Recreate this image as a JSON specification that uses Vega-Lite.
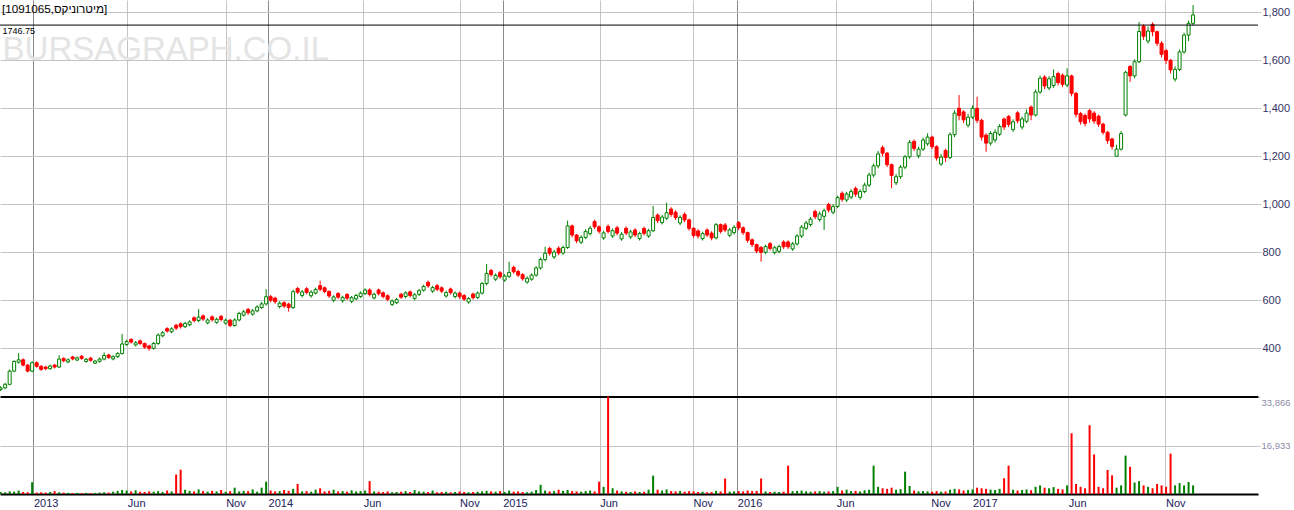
{
"$schema": "https://vega.github.io/schema/vega-lite/v6.json",
"padding": {"left": -2, "top": 0, "right": 0, "bottom": 0},
"autosize": {"type": "pad"},
"background": "white",
"spacing": 0,
"config": {"view": {"stroke": null}, "font": "Liberation Sans"},
"datasets": {"p": [
{"d":"2012-11-11","o":228,"h":242,"l":222,"c":235,"v":700},
{"d":"2012-11-18","o":235,"h":256,"l":230,"c":250,"v":600},
{"d":"2012-11-25","o":250,"h":312,"l":246,"c":305,"v":900},
{"d":"2012-12-02","o":305,"h":350,"l":300,"c":345,"v":800},
{"d":"2012-12-09","o":342,"h":380,"l":336,"c":352,"v":1200},
{"d":"2012-12-16","o":352,"h":358,"l":325,"c":330,"v":700},
{"d":"2012-12-23","o":330,"h":334,"l":300,"c":305,"v":600},
{"d":"2012-12-30","o":305,"h":346,"l":300,"c":340,"v":4100},
{"d":"2013-01-06","o":340,"h":345,"l":319,"c":325,"v":500},
{"d":"2013-01-13","o":325,"h":330,"l":306,"c":312,"v":600},
{"d":"2013-01-20","o":322,"h":327,"l":309,"c":315,"v":500},
{"d":"2013-01-27","o":315,"h":332,"l":311,"c":326,"v":700},
{"d":"2013-02-03","o":330,"h":334,"l":316,"c":322,"v":1000},
{"d":"2013-02-10","o":322,"h":371,"l":318,"c":355,"v":600},
{"d":"2013-02-17","o":358,"h":362,"l":342,"c":348,"v":500},
{"d":"2013-02-24","o":343,"h":358,"l":338,"c":352,"v":400},
{"d":"2013-03-03","o":364,"h":368,"l":350,"c":356,"v":300},
{"d":"2013-03-10","o":351,"h":366,"l":346,"c":360,"v":400},
{"d":"2013-03-17","o":367,"h":372,"l":352,"c":358,"v":300},
{"d":"2013-03-24","o":345,"h":360,"l":340,"c":354,"v":400},
{"d":"2013-03-31","o":359,"h":364,"l":344,"c":350,"v":300},
{"d":"2013-04-07","o":338,"h":352,"l":334,"c":347,"v":400},
{"d":"2013-04-14","o":346,"h":362,"l":340,"c":355,"v":500},
{"d":"2013-04-21","o":355,"h":383,"l":350,"c":370,"v":600},
{"d":"2013-04-28","o":372,"h":377,"l":356,"c":362,"v":500},
{"d":"2013-05-05","o":356,"h":371,"l":350,"c":365,"v":800},
{"d":"2013-05-12","o":365,"h":384,"l":360,"c":378,"v":1100},
{"d":"2013-05-19","o":378,"h":460,"l":374,"c":418,"v":1400},
{"d":"2013-05-26","o":416,"h":436,"l":410,"c":428,"v":1200},
{"d":"2013-06-02","o":437,"h":442,"l":420,"c":426,"v":900},
{"d":"2013-06-09","o":414,"h":430,"l":408,"c":423,"v":1300},
{"d":"2013-06-16","o":431,"h":436,"l":413,"c":420,"v":800},
{"d":"2013-06-23","o":420,"h":424,"l":398,"c":405,"v":700},
{"d":"2013-06-30","o":410,"h":414,"l":390,"c":400,"v":900},
{"d":"2013-07-07","o":400,"h":426,"l":394,"c":420,"v":800},
{"d":"2013-07-14","o":420,"h":462,"l":414,"c":455,"v":1000},
{"d":"2013-07-21","o":452,"h":472,"l":446,"c":465,"v":700},
{"d":"2013-07-28","o":482,"h":488,"l":465,"c":472,"v":1200},
{"d":"2013-08-04","o":469,"h":488,"l":463,"c":481,"v":900},
{"d":"2013-08-11","o":496,"h":502,"l":476,"c":484,"v":6800},
{"d":"2013-08-18","o":502,"h":508,"l":482,"c":490,"v":8500},
{"d":"2013-08-25","o":490,"h":510,"l":484,"c":504,"v":1500},
{"d":"2013-09-01","o":498,"h":517,"l":492,"c":510,"v":1100},
{"d":"2013-09-08","o":527,"h":533,"l":508,"c":516,"v":900},
{"d":"2013-09-15","o":516,"h":563,"l":508,"c":530,"v":1600},
{"d":"2013-09-22","o":535,"h":541,"l":514,"c":522,"v":1000},
{"d":"2013-09-29","o":506,"h":525,"l":500,"c":518,"v":800},
{"d":"2013-10-06","o":531,"h":537,"l":511,"c":519,"v":1100},
{"d":"2013-10-13","o":508,"h":528,"l":502,"c":521,"v":900},
{"d":"2013-10-20","o":533,"h":539,"l":512,"c":520,"v":1400},
{"d":"2013-10-27","o":505,"h":524,"l":498,"c":517,"v":800},
{"d":"2013-11-03","o":517,"h":522,"l":488,"c":495,"v":1000},
{"d":"2013-11-10","o":495,"h":525,"l":490,"c":518,"v":2200},
{"d":"2013-11-17","o":518,"h":552,"l":512,"c":545,"v":900},
{"d":"2013-11-24","o":538,"h":560,"l":532,"c":552,"v":1100},
{"d":"2013-12-01","o":562,"h":568,"l":540,"c":548,"v":1000},
{"d":"2013-12-08","o":542,"h":564,"l":536,"c":556,"v":1600},
{"d":"2013-12-15","o":556,"h":580,"l":550,"c":572,"v":800},
{"d":"2013-12-22","o":570,"h":593,"l":564,"c":585,"v":2200},
{"d":"2013-12-29","o":585,"h":646,"l":578,"c":615,"v":4300},
{"d":"2014-01-05","o":615,"h":622,"l":592,"c":600,"v":1200},
{"d":"2014-01-12","o":609,"h":615,"l":586,"c":594,"v":900},
{"d":"2014-01-19","o":574,"h":596,"l":566,"c":588,"v":1000},
{"d":"2014-01-26","o":590,"h":596,"l":568,"c":576,"v":1400},
{"d":"2014-02-02","o":584,"h":590,"l":553,"c":570,"v":1100},
{"d":"2014-02-09","o":570,"h":644,"l":564,"c":636,"v":1800},
{"d":"2014-02-16","o":649,"h":656,"l":626,"c":634,"v":3500},
{"d":"2014-02-23","o":620,"h":643,"l":612,"c":635,"v":900},
{"d":"2014-03-02","o":648,"h":655,"l":625,"c":633,"v":1000},
{"d":"2014-03-09","o":619,"h":642,"l":611,"c":634,"v":800},
{"d":"2014-03-16","o":630,"h":653,"l":624,"c":645,"v":1500},
{"d":"2014-03-23","o":661,"h":682,"l":638,"c":646,"v":2000},
{"d":"2014-03-30","o":652,"h":658,"l":629,"c":637,"v":900},
{"d":"2014-04-06","o":637,"h":641,"l":610,"c":618,"v":1100},
{"d":"2014-04-13","o":600,"h":621,"l":592,"c":614,"v":1500},
{"d":"2014-04-20","o":628,"h":634,"l":605,"c":613,"v":900},
{"d":"2014-04-27","o":598,"h":619,"l":590,"c":612,"v":1000},
{"d":"2014-05-04","o":624,"h":630,"l":601,"c":609,"v":800},
{"d":"2014-05-11","o":596,"h":618,"l":588,"c":611,"v":1300},
{"d":"2014-05-18","o":606,"h":627,"l":600,"c":620,"v":900},
{"d":"2014-05-25","o":616,"h":637,"l":610,"c":630,"v":1000},
{"d":"2014-06-01","o":628,"h":650,"l":622,"c":643,"v":1200},
{"d":"2014-06-08","o":643,"h":650,"l":616,"c":624,"v":4500},
{"d":"2014-06-15","o":610,"h":632,"l":603,"c":625,"v":900},
{"d":"2014-06-22","o":643,"h":649,"l":620,"c":628,"v":800},
{"d":"2014-06-29","o":631,"h":637,"l":608,"c":616,"v":700},
{"d":"2014-07-06","o":619,"h":625,"l":596,"c":604,"v":900},
{"d":"2014-07-13","o":583,"h":604,"l":576,"c":597,"v":600},
{"d":"2014-07-20","o":590,"h":610,"l":584,"c":603,"v":700},
{"d":"2014-07-27","o":625,"h":631,"l":606,"c":613,"v":800},
{"d":"2014-08-03","o":616,"h":638,"l":608,"c":631,"v":1000},
{"d":"2014-08-10","o":635,"h":641,"l":612,"c":620,"v":700},
{"d":"2014-08-17","o":608,"h":630,"l":600,"c":623,"v":1400},
{"d":"2014-08-24","o":625,"h":647,"l":618,"c":640,"v":900},
{"d":"2014-08-31","o":642,"h":665,"l":636,"c":658,"v":800},
{"d":"2014-09-07","o":675,"h":682,"l":652,"c":660,"v":700},
{"d":"2014-09-14","o":638,"h":660,"l":631,"c":653,"v":1200},
{"d":"2014-09-21","o":661,"h":668,"l":638,"c":646,"v":600},
{"d":"2014-09-28","o":652,"h":658,"l":630,"c":638,"v":700},
{"d":"2014-10-05","o":618,"h":640,"l":611,"c":632,"v":800},
{"d":"2014-10-12","o":647,"h":653,"l":624,"c":632,"v":600},
{"d":"2014-10-19","o":616,"h":637,"l":608,"c":630,"v":700},
{"d":"2014-10-26","o":630,"h":636,"l":606,"c":615,"v":900},
{"d":"2014-11-02","o":620,"h":626,"l":597,"c":605,"v":700},
{"d":"2014-11-09","o":593,"h":614,"l":586,"c":607,"v":600},
{"d":"2014-11-16","o":626,"h":632,"l":603,"c":611,"v":700},
{"d":"2014-11-23","o":612,"h":637,"l":605,"c":630,"v":800},
{"d":"2014-11-30","o":630,"h":676,"l":624,"c":670,"v":900},
{"d":"2014-12-07","o":670,"h":751,"l":662,"c":712,"v":1100},
{"d":"2014-12-14","o":724,"h":731,"l":699,"c":707,"v":900},
{"d":"2014-12-21","o":688,"h":712,"l":680,"c":704,"v":800},
{"d":"2014-12-28","o":715,"h":722,"l":690,"c":698,"v":1000},
{"d":"2015-01-04","o":684,"h":709,"l":677,"c":701,"v":700},
{"d":"2015-01-11","o":700,"h":761,"l":693,"c":716,"v":1200},
{"d":"2015-01-18","o":737,"h":744,"l":711,"c":719,"v":800},
{"d":"2015-01-25","o":720,"h":727,"l":697,"c":705,"v":900},
{"d":"2015-02-01","o":707,"h":713,"l":682,"c":690,"v":700},
{"d":"2015-02-08","o":676,"h":700,"l":669,"c":692,"v":600},
{"d":"2015-02-15","o":688,"h":712,"l":681,"c":705,"v":800},
{"d":"2015-02-22","o":705,"h":742,"l":698,"c":735,"v":1400},
{"d":"2015-03-01","o":735,"h":778,"l":728,"c":770,"v":3200},
{"d":"2015-03-08","o":770,"h":823,"l":762,"c":796,"v":1200},
{"d":"2015-03-15","o":816,"h":824,"l":786,"c":796,"v":900},
{"d":"2015-03-22","o":781,"h":810,"l":772,"c":801,"v":1000},
{"d":"2015-03-29","o":817,"h":825,"l":788,"c":797,"v":1500},
{"d":"2015-04-05","o":797,"h":828,"l":790,"c":820,"v":1100},
{"d":"2015-04-12","o":820,"h":932,"l":814,"c":910,"v":1400},
{"d":"2015-04-19","o":910,"h":916,"l":862,"c":872,"v":1000},
{"d":"2015-04-26","o":872,"h":876,"l":838,"c":848,"v":900},
{"d":"2015-05-03","o":842,"h":871,"l":834,"c":862,"v":800},
{"d":"2015-05-10","o":862,"h":896,"l":855,"c":887,"v":1000},
{"d":"2015-05-17","o":878,"h":910,"l":870,"c":900,"v":1200},
{"d":"2015-05-24","o":928,"h":936,"l":897,"c":906,"v":900},
{"d":"2015-05-31","o":906,"h":912,"l":878,"c":888,"v":4300},
{"d":"2015-06-07","o":860,"h":890,"l":852,"c":881,"v":2500},
{"d":"2015-06-14","o":908,"h":916,"l":878,"c":887,"v":34000},
{"d":"2015-06-21","o":868,"h":899,"l":860,"c":890,"v":2000},
{"d":"2015-06-28","o":902,"h":910,"l":871,"c":880,"v":1200},
{"d":"2015-07-05","o":856,"h":884,"l":848,"c":875,"v":900},
{"d":"2015-07-12","o":900,"h":908,"l":871,"c":880,"v":800},
{"d":"2015-07-19","o":864,"h":894,"l":856,"c":885,"v":700},
{"d":"2015-07-26","o":893,"h":900,"l":863,"c":872,"v":900},
{"d":"2015-08-02","o":857,"h":886,"l":849,"c":878,"v":700},
{"d":"2015-08-09","o":899,"h":907,"l":870,"c":879,"v":800},
{"d":"2015-08-16","o":868,"h":898,"l":860,"c":890,"v":1500},
{"d":"2015-08-23","o":890,"h":993,"l":884,"c":945,"v":6400},
{"d":"2015-08-30","o":955,"h":962,"l":922,"c":932,"v":1500},
{"d":"2015-09-06","o":924,"h":956,"l":916,"c":947,"v":1200},
{"d":"2015-09-13","o":942,"h":1007,"l":934,"c":965,"v":1600},
{"d":"2015-09-20","o":980,"h":988,"l":948,"c":958,"v":1000},
{"d":"2015-09-27","o":967,"h":975,"l":935,"c":945,"v":900},
{"d":"2015-10-04","o":922,"h":954,"l":913,"c":945,"v":1100},
{"d":"2015-10-11","o":958,"h":966,"l":925,"c":935,"v":800},
{"d":"2015-10-18","o":935,"h":940,"l":890,"c":900,"v":1000},
{"d":"2015-10-25","o":900,"h":904,"l":860,"c":870,"v":900},
{"d":"2015-11-01","o":889,"h":896,"l":858,"c":868,"v":700},
{"d":"2015-11-08","o":857,"h":886,"l":849,"c":878,"v":800},
{"d":"2015-11-15","o":893,"h":900,"l":863,"c":872,"v":600},
{"d":"2015-11-22","o":880,"h":888,"l":850,"c":860,"v":700},
{"d":"2015-11-29","o":860,"h":922,"l":854,"c":915,"v":1100},
{"d":"2015-12-06","o":915,"h":920,"l":878,"c":887,"v":900},
{"d":"2015-12-13","o":914,"h":922,"l":884,"c":893,"v":5400},
{"d":"2015-12-20","o":871,"h":901,"l":863,"c":893,"v":800},
{"d":"2015-12-27","o":882,"h":913,"l":874,"c":904,"v":900},
{"d":"2016-01-03","o":924,"h":930,"l":892,"c":902,"v":1000},
{"d":"2016-01-10","o":902,"h":908,"l":872,"c":882,"v":900},
{"d":"2016-01-17","o":882,"h":886,"l":840,"c":850,"v":1200},
{"d":"2016-01-24","o":852,"h":858,"l":822,"c":832,"v":1000},
{"d":"2016-01-31","o":832,"h":836,"l":796,"c":805,"v":1100},
{"d":"2016-02-07","o":820,"h":826,"l":761,"c":800,"v":5400},
{"d":"2016-02-14","o":800,"h":832,"l":792,"c":824,"v":900},
{"d":"2016-02-21","o":836,"h":843,"l":808,"c":816,"v":700},
{"d":"2016-02-28","o":799,"h":827,"l":791,"c":819,"v":800},
{"d":"2016-03-06","o":804,"h":832,"l":796,"c":824,"v":700},
{"d":"2016-03-13","o":843,"h":850,"l":814,"c":823,"v":800},
{"d":"2016-03-20","o":843,"h":850,"l":814,"c":823,"v":9900},
{"d":"2016-03-27","o":814,"h":843,"l":806,"c":835,"v":1000},
{"d":"2016-04-03","o":835,"h":876,"l":828,"c":868,"v":1100},
{"d":"2016-04-10","o":868,"h":914,"l":860,"c":905,"v":1200},
{"d":"2016-04-17","o":900,"h":931,"l":892,"c":922,"v":900},
{"d":"2016-04-24","o":916,"h":947,"l":908,"c":938,"v":800},
{"d":"2016-05-01","o":970,"h":978,"l":938,"c":948,"v":900},
{"d":"2016-05-08","o":936,"h":970,"l":928,"c":960,"v":1000},
{"d":"2016-05-15","o":950,"h":982,"l":893,"c":973,"v":800},
{"d":"2016-05-22","o":999,"h":1006,"l":966,"c":976,"v":900},
{"d":"2016-05-29","o":967,"h":1000,"l":958,"c":991,"v":1000},
{"d":"2016-06-05","o":991,"h":1036,"l":984,"c":1028,"v":2500},
{"d":"2016-06-12","o":1046,"h":1054,"l":1010,"c":1021,"v":1200},
{"d":"2016-06-19","o":1018,"h":1052,"l":1010,"c":1043,"v":1500},
{"d":"2016-06-26","o":1030,"h":1063,"l":1022,"c":1053,"v":1000},
{"d":"2016-07-03","o":1066,"h":1074,"l":1031,"c":1042,"v":1100},
{"d":"2016-07-10","o":1029,"h":1062,"l":1020,"c":1053,"v":900},
{"d":"2016-07-17","o":1053,"h":1090,"l":1046,"c":1080,"v":1300},
{"d":"2016-07-24","o":1080,"h":1132,"l":1072,"c":1122,"v":1500},
{"d":"2016-07-31","o":1122,"h":1170,"l":1112,"c":1160,"v":9900},
{"d":"2016-08-07","o":1160,"h":1222,"l":1150,"c":1210,"v":2500},
{"d":"2016-08-14","o":1236,"h":1245,"l":1200,"c":1213,"v":2000},
{"d":"2016-08-21","o":1213,"h":1218,"l":1155,"c":1165,"v":1800},
{"d":"2016-08-28","o":1165,"h":1170,"l":1067,"c":1120,"v":2200},
{"d":"2016-09-04","o":1090,"h":1126,"l":1080,"c":1115,"v":1500},
{"d":"2016-09-11","o":1115,"h":1164,"l":1106,"c":1155,"v":1700},
{"d":"2016-09-18","o":1155,"h":1206,"l":1146,"c":1198,"v":7800},
{"d":"2016-09-25","o":1198,"h":1268,"l":1190,"c":1258,"v":2800},
{"d":"2016-10-02","o":1262,"h":1270,"l":1222,"c":1233,"v":1200},
{"d":"2016-10-09","o":1202,"h":1240,"l":1192,"c":1230,"v":900},
{"d":"2016-10-16","o":1230,"h":1278,"l":1222,"c":1268,"v":1000},
{"d":"2016-10-23","o":1252,"h":1296,"l":1244,"c":1280,"v":900},
{"d":"2016-10-30","o":1280,"h":1286,"l":1230,"c":1240,"v":800},
{"d":"2016-11-06","o":1240,"h":1246,"l":1182,"c":1193,"v":1000},
{"d":"2016-11-13","o":1168,"h":1210,"l":1160,"c":1197,"v":800},
{"d":"2016-11-20","o":1224,"h":1232,"l":1176,"c":1195,"v":900},
{"d":"2016-11-27","o":1195,"h":1300,"l":1188,"c":1290,"v":1500},
{"d":"2016-12-04","o":1290,"h":1392,"l":1280,"c":1380,"v":1800},
{"d":"2016-12-11","o":1400,"h":1455,"l":1350,"c":1370,"v":1600},
{"d":"2016-12-18","o":1385,"h":1392,"l":1338,"c":1352,"v":1200},
{"d":"2016-12-25","o":1330,"h":1376,"l":1320,"c":1363,"v":1400},
{"d":"2017-01-01","o":1363,"h":1412,"l":1355,"c":1400,"v":1600},
{"d":"2017-01-08","o":1400,"h":1448,"l":1338,"c":1350,"v":2200},
{"d":"2017-01-15","o":1350,"h":1356,"l":1266,"c":1280,"v":2000},
{"d":"2017-01-22","o":1288,"h":1296,"l":1219,"c":1255,"v":1800},
{"d":"2017-01-29","o":1255,"h":1305,"l":1245,"c":1295,"v":1500},
{"d":"2017-02-05","o":1268,"h":1312,"l":1258,"c":1300,"v":1400},
{"d":"2017-02-12","o":1292,"h":1334,"l":1284,"c":1324,"v":1800},
{"d":"2017-02-19","o":1355,"h":1362,"l":1310,"c":1322,"v":5500},
{"d":"2017-02-26","o":1366,"h":1372,"l":1322,"c":1333,"v":9900},
{"d":"2017-03-05","o":1311,"h":1354,"l":1302,"c":1344,"v":1500},
{"d":"2017-03-12","o":1381,"h":1388,"l":1337,"c":1348,"v":1200},
{"d":"2017-03-19","o":1322,"h":1366,"l":1312,"c":1356,"v":1400},
{"d":"2017-03-26","o":1346,"h":1395,"l":1338,"c":1380,"v":1600},
{"d":"2017-04-02","o":1405,"h":1412,"l":1350,"c":1372,"v":1300},
{"d":"2017-04-09","o":1372,"h":1478,"l":1366,"c":1468,"v":2500},
{"d":"2017-04-16","o":1468,"h":1536,"l":1460,"c":1525,"v":3000},
{"d":"2017-04-23","o":1530,"h":1538,"l":1480,"c":1493,"v":2200},
{"d":"2017-04-30","o":1485,"h":1534,"l":1476,"c":1523,"v":2000},
{"d":"2017-05-07","o":1495,"h":1562,"l":1486,"c":1532,"v":2400},
{"d":"2017-05-14","o":1545,"h":1553,"l":1495,"c":1507,"v":1800},
{"d":"2017-05-21","o":1538,"h":1545,"l":1488,"c":1500,"v":1600},
{"d":"2017-05-28","o":1497,"h":1567,"l":1488,"c":1535,"v":3000},
{"d":"2017-06-04","o":1535,"h":1540,"l":1450,"c":1462,"v":21200},
{"d":"2017-06-11","o":1462,"h":1468,"l":1362,"c":1375,"v":3500},
{"d":"2017-06-18","o":1378,"h":1385,"l":1332,"c":1344,"v":2500},
{"d":"2017-06-25","o":1370,"h":1378,"l":1325,"c":1337,"v":2000},
{"d":"2017-07-02","o":1390,"h":1397,"l":1340,"c":1356,"v":24000},
{"d":"2017-07-09","o":1380,"h":1388,"l":1335,"c":1347,"v":13800},
{"d":"2017-07-16","o":1367,"h":1374,"l":1322,"c":1334,"v":2500},
{"d":"2017-07-23","o":1334,"h":1340,"l":1290,"c":1300,"v":2000},
{"d":"2017-07-30","o":1300,"h":1306,"l":1252,"c":1265,"v":8400},
{"d":"2017-08-06","o":1272,"h":1278,"l":1228,"c":1241,"v":6500},
{"d":"2017-08-13","o":1200,"h":1248,"l":1212,"c":1230,"v":2200},
{"d":"2017-08-20","o":1230,"h":1305,"l":1224,"c":1295,"v":3000},
{"d":"2017-08-27","o":1372,"h":1556,"l":1366,"c":1550,"v":13400},
{"d":"2017-09-03","o":1574,"h":1580,"l":1510,"c":1535,"v":9500},
{"d":"2017-09-10","o":1535,"h":1604,"l":1525,"c":1594,"v":4000},
{"d":"2017-09-17","o":1594,"h":1760,"l":1588,"c":1720,"v":4500},
{"d":"2017-09-24","o":1742,"h":1750,"l":1685,"c":1700,"v":3000},
{"d":"2017-10-01","o":1680,"h":1740,"l":1670,"c":1722,"v":2500},
{"d":"2017-10-08","o":1750,"h":1758,"l":1700,"c":1719,"v":2000},
{"d":"2017-10-15","o":1719,"h":1724,"l":1660,"c":1671,"v":3500},
{"d":"2017-10-22","o":1671,"h":1680,"l":1612,"c":1625,"v":3000},
{"d":"2017-10-29","o":1640,"h":1648,"l":1585,"c":1600,"v":2500},
{"d":"2017-11-05","o":1600,"h":1606,"l":1545,"c":1560,"v":14100},
{"d":"2017-11-12","o":1522,"h":1575,"l":1511,"c":1562,"v":3000},
{"d":"2017-11-19","o":1562,"h":1645,"l":1555,"c":1635,"v":3800},
{"d":"2017-11-26","o":1635,"h":1715,"l":1628,"c":1705,"v":3000},
{"d":"2017-12-03","o":1705,"h":1765,"l":1680,"c":1754,"v":4200},
{"d":"2017-12-10","o":1754,"h":1830,"l":1745,"c":1789,"v":3000}
]},
"vconcat": [
{
"width": 1258,
"height": 396,
"layer": [
{
"data": {"values": [{"t": "BURSAGRAPH.CO.IL"}]},
"mark": {"type": "text", "align": "left", "baseline": "alphabetic", "fontSize": 33, "font": "Liberation Sans", "color": "#e4e4e4"},
"encoding": {
"text": {"field": "t"},
"x": {"datum": {"year": 2012, "month": 11, "date": 14}, "type": "temporal"},
"y": {"datum": 1601, "type": "quantitative"}
}
},
{
"data": {"name": "p"},
"mark": {"type": "rule", "strokeWidth": 1},
"encoding": {
"x": {"field": "d", "type": "temporal",
"scale": {"domain": [{"year": 2012, "month": 11, "date": 10}, {"year": 2018, "month": 3, "date": 21}], "nice": false, "padding": 0},
"axis": {"title": null, "orient": "bottom", "labels": false, "ticks": false, "domain": true, "domainColor": "#000000", "domainWidth": 1,
"grid": true, "gridColor": {"condition": {"test": "month(time(datum.value) + 864000000) == 0", "value": "#8a8a8a"}, "value": "#c4c4c4"},
"values": [{"year":2013,"month":1,"date":1},{"year":2013,"month":5,"date":27},{"year":2013,"month":10,"date":27},{"year":2014,"month":1,"date":1},{"year":2014,"month":5,"date":29},{"year":2014,"month":10,"date":26},{"year":2015,"month":1,"date":1},{"year":2015,"month":6,"date":1},{"year":2015,"month":10,"date":24},{"year":2016,"month":1,"date":1},{"year":2016,"month":6,"date":3},{"year":2016,"month":10,"date":28},{"year":2017,"month":1,"date":1},{"year":2017,"month":5,"date":30},{"year":2017,"month":10,"date":28}]}},
"y": {"field": "l", "type": "quantitative",
"scale": {"domain": [201.25, 1851.25], "nice": false, "zero": false},
"axis": {"title": null, "orient": "right", "values": [400, 600, 800, 1000, 1200, 1400, 1600, 1800], "labelExpr": "format(datum.value, ',')", "grid": true, "gridColor": "#c4c4c4", "domain": false, "ticks": true, "tickSize": 3, "tickColor": "#c4c4c4", "labelColor": "#33335f", "labelFont": "Liberation Sans", "labelFontSize": 11, "labelPadding": 1}},
"y2": {"field": "h"},
"color": {"condition": {"test": "datum.c >= datum.o", "value": "#008000"}, "value": "#ff0000"}
}
},
{
"data": {"name": "p"},
"mark": {"type": "bar", "size": 3, "strokeWidth": 1},
"encoding": {
"x": {"field": "d", "type": "temporal",
"scale": {"padding": 0},
"axis": {"title": null, "orient": "bottom", "labels": false, "ticks": false, "domain": true, "domainColor": "#000000", "domainWidth": 1,
"grid": true, "gridColor": {"condition": {"test": "month(time(datum.value) + 864000000) == 0", "value": "#8a8a8a"}, "value": "#c4c4c4"},
"values": [{"year":2013,"month":1,"date":1},{"year":2013,"month":5,"date":27},{"year":2013,"month":10,"date":27},{"year":2014,"month":1,"date":1},{"year":2014,"month":5,"date":29},{"year":2014,"month":10,"date":26},{"year":2015,"month":1,"date":1},{"year":2015,"month":6,"date":1},{"year":2015,"month":10,"date":24},{"year":2016,"month":1,"date":1},{"year":2016,"month":6,"date":3},{"year":2016,"month":10,"date":28},{"year":2017,"month":1,"date":1},{"year":2017,"month":5,"date":30},{"year":2017,"month":10,"date":28}]}},
"y": {"field": "o", "type": "quantitative",
"axis": {"title": null, "orient": "right", "values": [400, 600, 800, 1000, 1200, 1400, 1600, 1800], "labelExpr": "format(datum.value, ',')", "grid": true, "gridColor": "#c4c4c4", "domain": false, "ticks": true, "tickSize": 3, "tickColor": "#c4c4c4", "labelColor": "#33335f", "labelFont": "Liberation Sans", "labelFontSize": 11, "labelPadding": 1}},
"y2": {"field": "c"},
"fill": {"condition": {"test": "datum.c >= datum.o", "value": "#ffffff"}, "value": "#ff0000"},
"stroke": {"condition": {"test": "datum.c >= datum.o", "value": "#008000"}, "value": "#ff0000"}
}
},
{
"data": {"values": [{}]},
"mark": {"type": "rule", "color": "#000000", "strokeWidth": 1},
"encoding": {"y": {"datum": 1746.75, "type": "quantitative"}}
},
{
"data": {"values": [{"t": "1746.75"}]},
"mark": {"type": "text", "align": "left", "baseline": "top", "dy": 2, "fontSize": 9, "font": "Liberation Sans", "color": "#000000"},
"encoding": {
"text": {"field": "t"},
"x": {"datum": {"year": 2012, "month": 11, "date": 14}, "type": "temporal"},
"y": {"datum": 1746.75, "type": "quantitative"}
}
},
{
"data": {"values": [{"t": "[1091065,מיטרוניקס]"}]},
"mark": {"type": "text", "align": "left", "baseline": "middle", "fontSize": 11.7, "font": "Liberation Sans", "color": "#000000"},
"encoding": {
"text": {"field": "t"},
"x": {"datum": {"year": 2012, "month": 11, "date": 13}, "type": "temporal"},
"y": {"datum": 1812, "type": "quantitative"}
}
}
]
},
{
"width": 1258,
"height": 97,
"data": {"name": "p"},
"mark": {"type": "bar", "size": 2},
"encoding": {
"x": {"field": "d", "type": "temporal",
"scale": {"domain": [{"year": 2012, "month": 11, "date": 10}, {"year": 2018, "month": 3, "date": 21}], "nice": false, "padding": 0},
"axis": {"title": null, "orient": "bottom", "ticks": false, "domain": true, "domainColor": "#000000", "domainWidth": 2,
"grid": true, "gridColor": {"condition": {"test": "month(time(datum.value) + 864000000) == 0", "value": "#8a8a8a"}, "value": "#c4c4c4"},
"labelAlign": "left", "labelBaseline": "top", "labelPadding": 3, "labelFont": "Liberation Sans", "labelFontSize": 11, "labelColor": "#22225a", "labelFlush": false, "labelOverlap": false, "labelBound": false,
"labelExpr": "timeFormat(time(datum.value) + 864000000, month(time(datum.value) + 864000000) == 0 ? '%Y' : '%b')",
"values": [{"year":2013,"month":1,"date":1},{"year":2013,"month":5,"date":27},{"year":2013,"month":10,"date":27},{"year":2014,"month":1,"date":1},{"year":2014,"month":5,"date":29},{"year":2014,"month":10,"date":26},{"year":2015,"month":1,"date":1},{"year":2015,"month":6,"date":1},{"year":2015,"month":10,"date":24},{"year":2016,"month":1,"date":1},{"year":2016,"month":6,"date":3},{"year":2016,"month":10,"date":28},{"year":2017,"month":1,"date":1},{"year":2017,"month":5,"date":30},{"year":2017,"month":10,"date":28}]}},
"y": {"field": "v", "type": "quantitative",
"scale": {"domain": [0, 33866], "nice": false},
"axis": {"title": null, "orient": "right", "values": [16933, 33866], "labelExpr": "format(datum.value, ',')", "grid": true,
"gridColor": {"condition": {"test": "datum.value > 30000", "value": "#000000"}, "value": "#c4c4c4"},
"domain": false, "ticks": true, "tickSize": 2, "tickColor": "#c4c4c4", "labelColor": "#8c8ca8", "labelFont": "Liberation Sans", "labelFontSize": 9.5, "labelPadding": 1, "labelFlush": true}},
"color": {"condition": {"test": "datum.c >= datum.o", "value": "#008000"}, "value": "#ff0000"}
}
}
]
}
